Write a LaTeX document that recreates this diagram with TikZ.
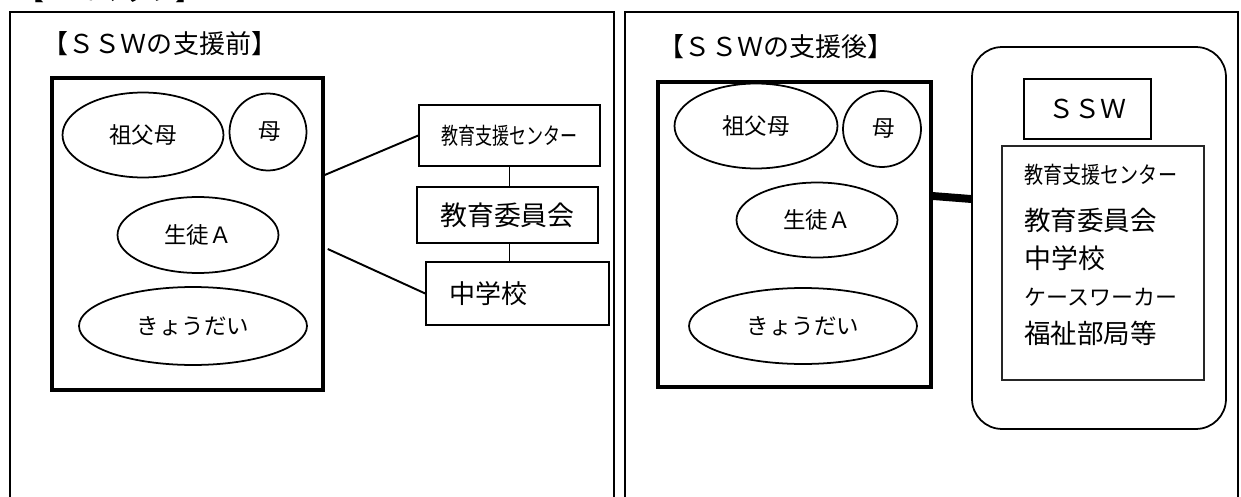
\documentclass[tikz,border=0pt]{standalone}
\usepackage{graphicx}
\usepackage{fontspec}
\newfontfamily\jp{Noto Sans CJK JP}
\usetikzlibrary{shapes.geometric,calc}
\newcommand\fsz[1]{\fontsize{#1}{#1}\selectfont}
\begin{document}
\begin{tikzpicture}[x=0.02cm,y=-0.02cm,
  panel/.style={line width=1.6pt},
  famframe/.style={draw, rectangle, line width=2pt, inner sep=0},
  fam/.style={draw, ellipse, line width=1pt, inner sep=0, font=\jp\fsz{12.8pt}},
  orgbox/.style={draw, rectangle, line width=0.9pt, inner sep=0},
  title/.style={inner sep=0, font=\jp\fsz{14.8pt}},
  link/.style={line width=1.1pt},
  item/.style={inner sep=0, anchor=west},
]
\useasboundingbox (0,0) rectangle (1241,497);
\clip (0,0) rectangle (1241,497);
\fill[white] (0,0) rectangle (1241,497);

% heading, cut off at the top edge as in the reference
\node[title, anchor=base] (ecomap) at (110,1) {【エコマップ】};

% panels
\draw[panel] (10,540) -- (10,12) -- (614,12) -- (614,540);
\draw[panel] (625,540) -- (625,12) -- (1238,12) -- (1238,540);

% titles
\node[title] (titleL) at (160,44) {【ＳＳＷの支援前】};
\node[title] (titleR) at (776,47) {【ＳＳＷの支援後】};

% ---- left: before ----
\node[famframe, minimum width=5.42cm, minimum height=6.24cm] (famL) at (187.5,234) {};
\node[fam, minimum width=3.22cm, minimum height=1.7cm] (gpL) at (143,135) {祖父母};
\node[fam, minimum width=1.54cm, minimum height=1.54cm] (mL) at (268,132) {\hspace*{0.08cm}母};
\node[fam, minimum width=3.22cm, minimum height=1.52cm] (sL) at (198,235) {生徒Ａ};
\node[fam, minimum width=4.56cm, minimum height=1.56cm] (kL) at (193,326) {きょうだい};

\node[orgbox, minimum width=3.62cm, minimum height=1.22cm, font=\jp\fsz{13.1pt}] (center) at (509.5,135.5) {\scalebox{0.74}[1]{教育支援センター}};
\node[orgbox, minimum width=3.62cm, minimum height=1.12cm, font=\jp\fsz{15.3pt}] (board) at (507.5,215) {教育委員会};
\node[orgbox, minimum width=3.66cm, minimum height=1.26cm, inner xsep=0.46cm, text width=2.74cm, align=left, font=\jp\fsz{14.8pt}] (school) at (517.5,293.5) {中学校};

\draw[link] (famL.east |- 0,175) -- (center.west);
\draw[link] ($(famL.east |- 0,249)+(3,0)$) -- (school.west);
\draw[link] (center.south) -- (center.south |- board.north);
\draw[link] (center.south |- board.south) -- (center.south |- school.north);

% ---- right: after ----
\node[famframe, minimum width=5.46cm, minimum height=6.1cm] (famR) at (794.5,234.5) {};
\node[fam, minimum width=3.26cm, minimum height=1.7cm] (gpR) at (756,126) {祖父母};
\node[fam, minimum width=1.56cm, minimum height=1.52cm] (mR) at (882,129) {\hspace*{0.08cm}母};
\node[fam, minimum width=3.22cm, minimum height=1.5cm] (sR) at (817,220) {生徒Ａ};
\node[fam, minimum width=4.56cm, minimum height=1.52cm] (kR) at (803,326) {きょうだい};

\node[draw, rectangle, rounded corners=0.6cm, line width=1pt, inner sep=0, minimum width=5.08cm, minimum height=7.64cm] (grp) at (1099,238) {};
\node[orgbox, minimum width=2.54cm, minimum height=1.2cm, font=\jp\fsz{14.8pt}] (ssw) at (1087.5,109) {ＳＳＷ};
\node[draw=black!85, rectangle, line width=0.7pt, inner sep=0, minimum width=4.04cm, minimum height=4.68cm] (list) at (1103,263) {};

\node[item, font=\jp\fsz{13.1pt}] (l1) at (1024,175) {\scalebox{0.83}[1]{教育支援センター}};
\node[item, font=\jp\fsz{15.1pt}] (l2) at (1024,220) {教育委員会};
\node[item, font=\jp\fsz{15.3pt}] (l3) at (1024,258) {中学校};
\node[item, font=\jp\fsz{12.5pt}] (l4) at (1024,297) {ケースワーカー};
\node[item, font=\jp\fsz{15.1pt}] (l5) at (1024,333) {福祉部局等};

\draw[line width=4.5pt] (famR.east |- 0,196) -- (grp.west |- 0,199);
\end{tikzpicture}
\end{document}
